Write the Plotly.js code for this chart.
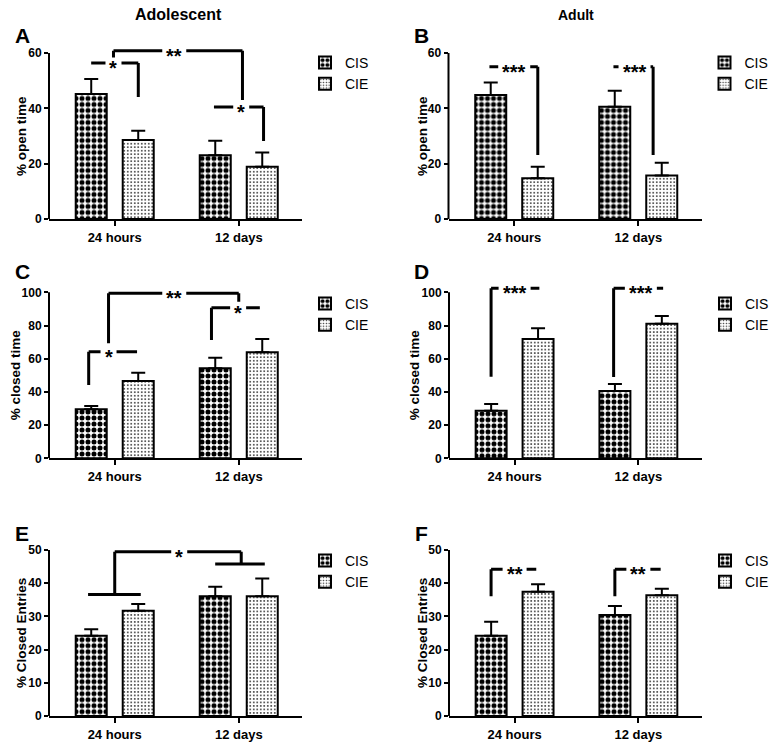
<!DOCTYPE html>
<html lang="en">
<head>
    <meta charset="UTF-8">
    <title>Open / closed arm time, CIS vs CIE</title>
    <script src="https://cdn.plot.ly/plotly-3.0.1.min.js"></script>
    <style>
        body { margin: 0; background: white; }
        #chart { width: 776px; height: 744px; }
    </style>
</head>
<body>
<div id="chart"></div>
<script>
    const W = 776, H = 744;
    const FONT = 'Liberation Sans, Arial, sans-serif';

    const groups = ['24 hours', '12 days'];
    const seriesNames = ['CIS', 'CIE'];

    // A - adolescent, % open time
    const openAdolCIS = [45.2, 23.0], openAdolCISErr = [5.4, 5.3];
    const openAdolCIE = [28.6, 18.9], openAdolCIEErr = [3.3, 5.1];
    // B - adult, % open time
    const openAdultCIS = [44.8, 40.6], openAdultCISErr = [4.5, 5.8];
    const openAdultCIE = [14.7, 15.7], openAdultCIEErr = [4.2, 4.6];
    // C - adolescent, % closed time
    const closedAdolCIS = [29.5, 54.2], closedAdolCISErr = [2.0, 6.4];
    const closedAdolCIE = [46.6, 63.9], closedAdolCIEErr = [5.0, 8.0];
    // D - adult, % closed time
    const closedAdultCIS = [28.7, 40.5], closedAdultCISErr = [4.0, 4.3];
    const closedAdultCIE = [71.9, 81.1], closedAdultCIEErr = [6.4, 4.6];
    // E - adolescent, % closed entries
    const entriesAdolCIS = [24.2, 36.1], entriesAdolCISErr = [1.9, 2.8];
    const entriesAdolCIE = [31.7, 36.1], entriesAdolCIEErr = [2.0, 5.3];
    // F - adult, % closed entries
    const entriesAdultCIS = [24.2, 30.4], entriesAdultCISErr = [4.2, 2.7];
    const entriesAdultCIE = [37.4, 36.4], entriesAdultCIEErr = [2.3, 1.9];

    // significance brackets: polylines in (category index, value) + star label
    const sigA = [
        {pts: [[-0.19, 56.4], [0.19, 56.4], [0.19, 44.1]], star: '*', at: [-0.01, 56.4]},
        {pts: [[-0.01, 58.4], [-0.01, 60.8], [1.03, 60.8], [1.03, 43.0]], star: '**', at: [0.48, 60.8]},
        {pts: [[0.80, 40.5], [1.20, 40.5], [1.20, 28.2]], star: '*', at: [1.02, 40.5]}
    ];
    const sigB = [
        {pts: [[-0.2, 55.0], [0.19, 55.0], [0.19, 23.1]], star: '***', at: [0.0, 55.0]},
        {pts: [[0.8, 55.0], [1.12, 55.0], [1.12, 23.1]], star: '***', at: [0.97, 55.0]}
    ];
    const sigC = [
        {pts: [[-0.21, 44.2], [-0.21, 64.2], [0.18, 64.2]], star: '*', at: [-0.05, 64.2]},
        {pts: [[-0.05, 69.3], [-0.05, 99.4], [1.0, 99.4], [1.0, 94.3]], star: '**', at: [0.48, 99.4]},
        {pts: [[0.78, 71.3], [0.78, 90.7], [1.17, 90.7]], star: '*', at: [0.995, 90.7]}
    ];
    const sigD = [
        {pts: [[-0.19, 49.2], [-0.19, 102.4], [0.2, 102.4]], star: '***', at: [0.0, 102.4]},
        {pts: [[0.8, 49.0], [0.8, 102.4], [1.2, 102.4]], star: '***', at: [1.02, 102.4]}
    ];
    const sigE = [
        {pts: [[-0.215, 36.6], [0.21, 36.6]]},
        {pts: [[0.81, 45.8], [1.21, 45.8]]},
        {pts: [[0, 36.6], [0, 49.5], [1.02, 49.5], [1.02, 45.8]], star: '*', at: [0.52, 49.5]}
    ];
    const sigF = [
        {pts: [[-0.19, 36.1], [-0.19, 44.2], [0.175, 44.2]], star: '**', at: [0.0, 44.2]},
        {pts: [[0.81, 36.1], [0.81, 44.2], [1.18, 44.2]], star: '**', at: [1.0, 44.2]}
    ];

    // pixel boxes of each panel (left, right, y of zero, y of top tick)
    const panels = [
        {letter: 'A', ytitle: '% open time', cis: openAdolCIS, cisErr: openAdolCISErr, cie: openAdolCIE, cieErr: openAdolCIEErr,
         sig: sigA, l: 49, r: 302, y0: 219, yt: 53, top: 60, dtick: 20, rmax: 62, titleX: 21, letterY: 36, legY: 47},
        {letter: 'B', ytitle: '% open time', cis: openAdultCIS, cisErr: openAdultCISErr, cie: openAdultCIE, cieErr: openAdultCIEErr,
         sig: sigB, l: 448.5, r: 701.5, y0: 219, yt: 53, top: 60, dtick: 20, rmax: 62, titleX: 422, letterY: 36, legY: 47},
        {letter: 'C', ytitle: '% closed time', cis: closedAdolCIS, cisErr: closedAdolCISErr, cie: closedAdolCIE, cieErr: closedAdolCIEErr,
         sig: sigC, l: 49, r: 302, y0: 458.3, yt: 292.3, top: 100, dtick: 20, rmax: 102, titleX: 15, letterY: 271, legY: 288},
        {letter: 'D', ytitle: '% closed time', cis: closedAdultCIS, cisErr: closedAdultCISErr, cie: closedAdultCIE, cieErr: closedAdultCIEErr,
         sig: sigD, l: 449, r: 701.5, y0: 458.3, yt: 292.3, top: 100, dtick: 20, rmax: 104.5, titleX: 414, letterY: 271, legY: 288},
        {letter: 'E', ytitle: '% Closed Entries', cis: entriesAdolCIS, cisErr: entriesAdolCISErr, cie: entriesAdolCIE, cieErr: entriesAdolCIEErr,
         sig: sigE, l: 49, r: 302, y0: 716, yt: 550, top: 50, dtick: 10, rmax: 51, titleX: 21, letterY: 533, legY: 545},
        {letter: 'F', ytitle: '% Closed Entries', cis: entriesAdultCIS, cisErr: entriesAdultCISErr, cie: entriesAdultCIE, cieErr: entriesAdultCIEErr,
         sig: sigF, l: 449, r: 701.5, y0: 716, yt: 550, top: 50, dtick: 10, rmax: 51, titleX: 422, letterY: 533, legY: 545}
    ];

    const cisPattern = {shape: '.', fgcolor: 'black', bgcolor: 'white', size: 6, solidity: 0.55};
    const ciePattern = {shape: '.', fgcolor: '#333', bgcolor: 'white', size: 3.5, solidity: 0.22};
    const xRange = [-0.53, 1.51];
    const starPx = 8;   // rough width of one asterisk

    const traces = [];
    const shapes = [];
    const annotations = [];
    const layout = {
        width: W, height: H,
        margin: {l: 0, r: 0, t: 0, b: 0},
        paper_bgcolor: 'white', plot_bgcolor: 'white',
        barmode: 'group', bargap: 0.242, bargroupgap: 0.34,
        font: {family: FONT, color: 'black'},
        showlegend: true
    };

    function errBar(arr) {
        return {type: 'data', array: arr, arrayminus: arr.map(() => 0), symmetric: false,
                color: 'black', thickness: 2, width: 7};
    }

    panels.forEach((p, i) => {
        const n = i ? String(i + 1) : '';
        const xa = 'x' + n, ya = 'y' + n, lg = 'legend' + n;

        [[p.cis, p.cisErr, cisPattern], [p.cie, p.cieErr, ciePattern]].forEach((s, k) => {
            traces.push({
                type: 'bar', name: seriesNames[k], x: groups, y: s[0],
                xaxis: xa, yaxis: ya, legend: lg,
                marker: {color: 'white', line: {color: 'black', width: 2}, pattern: s[2]},
                error_y: errBar(s[1]),
                hoverinfo: 'skip'
            });
        });

        const hPlot = (p.y0 - p.yt) * p.rmax / p.top;
        layout['xaxis' + n] = {
            domain: [p.l / W, p.r / W], anchor: ya, range: xRange,
            showline: true, linecolor: 'black', linewidth: 2,
            ticks: 'outside', ticklen: 5, tickwidth: 2, tickcolor: 'black',
            tickfont: {size: 13, weight: 'bold'}, showgrid: false, zeroline: false, fixedrange: true
        };
        const tv = [];
        for (let v = 0; v <= p.top; v += p.dtick) tv.push(v);
        layout['yaxis' + n] = {
            domain: [1 - p.y0 / H, 1 - (p.y0 - hPlot) / H], anchor: xa, range: [0, p.rmax],
            showline: false, tickvals: tv,
            ticks: 'outside', ticklen: 4, tickwidth: 2, tickcolor: 'black',
            tickfont: {size: 12, weight: 'bold'}, showgrid: false, zeroline: false, fixedrange: true
        };
        // y axis line stops at the top tick
        shapes.push({type: 'line', xref: xa + ' domain', yref: ya, x0: 0, x1: 0, y0: 0, y1: p.top,
                     line: {color: 'black', width: 2}});

        const unitPerPx = (xRange[1] - xRange[0]) / (p.r - p.l);
        const line = (x0, y0, x1, y1) => shapes.push({type: 'line', xref: xa, yref: ya,
            x0: x0, y0: y0, x1: x1, y1: y1, line: {color: 'black', width: 3}});

        p.sig.forEach(b => {
            for (let j = 0; j < b.pts.length - 1; j++) {
                const [x0, y0] = b.pts[j], [x1, y1] = b.pts[j + 1];
                const lo = Math.min(x0, x1), hi = Math.max(x0, x1);
                if (b.star && y0 === y1 && y0 === b.at[1] && lo < b.at[0] && hi > b.at[0]) {
                    // leave a gap in the line for the stars
                    const half = (b.star.length * starPx / 2 + 4) * unitPerPx;
                    line(lo, y0, b.at[0] - half, y0);
                    line(b.at[0] + half, y0, hi, y0);
                } else {
                    line(x0, y0, x1, y1);
                }
            }
            if (b.star) {
                annotations.push({xref: xa, yref: ya, x: b.at[0], y: b.at[1], text: b.star,
                                  showarrow: false, yshift: -5, xanchor: 'center',
                                  font: {size: 20, weight: 'bold'}});
            }
        });

        layout[lg] = {
            x: (p.l + 256) / W, y: 1 - p.legY / H, xanchor: 'left', yanchor: 'top',
            bgcolor: 'rgba(0,0,0,0)', font: {size: 14}, tracegroupgap: 0, traceorder: 'normal'
        };

        annotations.push({xref: 'paper', yref: 'paper', x: (p.l - 27) / W, y: 1 - p.letterY / H,
                          text: p.letter, showarrow: false, xanchor: 'center', yanchor: 'middle',
                          font: {size: 21, weight: 'bold'}});
        annotations.push({xref: 'paper', yref: 'paper', x: p.titleX / W, y: 1 - (p.y0 + p.yt) / 2 / H,
                          text: p.ytitle, showarrow: false, textangle: -90, xanchor: 'center', yanchor: 'middle',
                          font: {size: 13.5, weight: 'bold'}});
    });

    annotations.push({xref: 'paper', yref: 'paper', x: 178 / W, y: 1 - 15 / H, text: 'Adolescent',
                      showarrow: false, xanchor: 'center', yanchor: 'middle', font: {size: 16, weight: 'bold'}});
    annotations.push({xref: 'paper', yref: 'paper', x: 576 / W, y: 1 - 15 / H, text: 'Adult',
                      showarrow: false, xanchor: 'center', yanchor: 'middle', font: {size: 14, weight: 'bold'}});

    layout.shapes = shapes;
    layout.annotations = annotations;

    Plotly.newPlot('chart', traces, layout, {displayModeBar: false, staticPlot: true});
</script>
</body>
</html>
